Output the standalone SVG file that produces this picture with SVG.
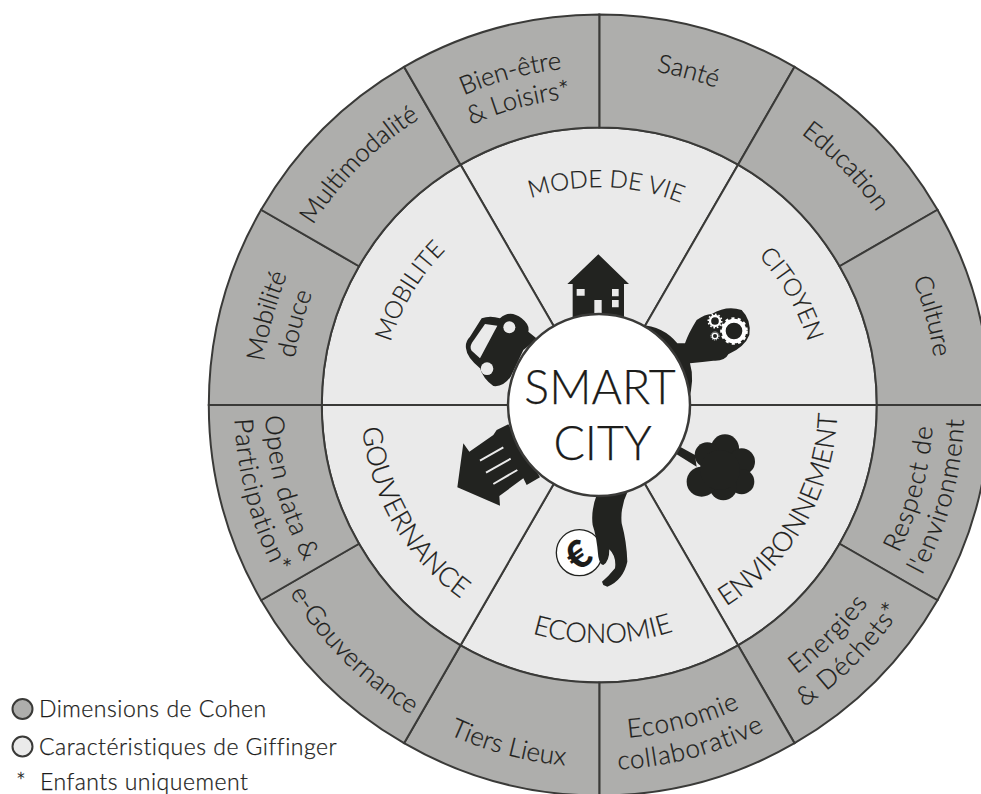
<svg xmlns="http://www.w3.org/2000/svg" width="981" height="794" viewBox="0 0 981 794">
<style>
.o{fill:#aeaeac;stroke:#3a3a38;stroke-width:2}
.i{fill:#eaeaea;stroke:#3a3a38;stroke-width:2}
text{font-family:"Lato","Noto Sans",sans-serif;fill:#1c1c1a;stroke:#1c1c1a;stroke-width:.25px;text-anchor:middle;font-weight:300}
.t{font-size:25.5px}
.s{font-size:26px}
.w{font-size:26px;letter-spacing:.9px}
.c{font-size:24px}
.d{font-size:27px}
.l{font-size:23px;text-anchor:start;letter-spacing:.5px}
.hub{font-size:46.5px}
.k{fill:#222320}
.b{fill:#eaeaea}
.g{fill:none;stroke:#fff}
</style>
<defs>
<path id="c218" d="M381.3,405A218,218 0 0 1 817.3,405"/>
<path id="c308" d="M291.3,405A308,308 0 0 1 907.3,405"/>
<path id="c338" d="M261.3,405A338,338 0 0 1 937.3,405"/>
<path id="a238" d="M361.3,405A238,238 0 0 0 837.3,405"/>
<path id="a334" d="M265.3,405A334,334 0 0 0 933.3,405"/>
<path id="a362" d="M237.3,405A362,362 0 0 0 961.3,405"/>
<path id="a365" d="M234.3,405A365,365 0 0 0 964.3,405"/>
</defs>

<g id="mode-de-vie"><path class="i" d="M599.3,405L460.55,164.7A277.5,277.5 0 0 1 738.05,164.7Z"/><text class="c"><textPath href="#c218" startOffset="51%">MODE DE VIE</textPath></text></g>
<g id="citoyen"><path class="i" d="M599.3,405L738.05,164.7A277.5,277.5 0 0 1 876.8,405Z"/><text class="c"><textPath href="#c218" startOffset="83.33%">CITOYEN</textPath></text></g>
<g id="environnement"><path class="i" d="M599.3,405L876.8,405A277.5,277.5 0 0 1 738.05,645.3Z"/><text class="d"><textPath href="#a238" startOffset="83.33%">ENVIRONNEMENT</textPath></text></g>
<g id="economie"><path class="i" d="M599.3,405L738.05,645.3A277.5,277.5 0 0 1 460.55,645.3Z"/><text class="d"><textPath href="#a238" startOffset="50.5%">ECONOMIE</textPath></text></g>
<g id="gouvernance"><path class="i" d="M599.3,405L460.55,645.3A277.5,277.5 0 0 1 321.8,405Z"/><text class="d"><textPath href="#a238" startOffset="16.67%">GOUVERNANCE</textPath></text></g>
<g id="mobilite"><path class="i" d="M599.3,405L321.8,405A277.5,277.5 0 0 1 460.55,164.7Z"/><text class="c"><textPath href="#c218" startOffset="17.2%">MOBILITE</textPath></text></g>

<g id="sante"><path class="o" d="M599.3,127.5L599.3,14.5A390.5,390.5 0 0 1 794.55,66.8L738.05,164.7A277.5,277.5 0 0 0 599.3,127.5Z"/><text class="t"><textPath href="#c338" startOffset="58.33%">Santé</textPath></text></g>
<g id="education"><path class="o" d="M738.05,164.7L794.55,66.8A390.5,390.5 0 0 1 937.5,209.75L839.6,266.25A277.5,277.5 0 0 0 738.05,164.7Z"/><text class="t"><textPath href="#c338" startOffset="75.5%">Education</textPath></text></g>
<g id="culture"><path class="o" d="M839.6,266.25L937.5,209.75A390.5,390.5 0 0 1 989.8,405L876.8,405A277.5,277.5 0 0 0 839.6,266.25Z"/><text class="t"><textPath href="#c338" startOffset="91.67%">Culture</textPath></text></g>
<g id="respect"><path class="o" d="M876.8,405L989.8,405A390.5,390.5 0 0 1 937.5,600.25L839.6,543.75A277.5,277.5 0 0 0 876.8,405Z"/><text class="w"><textPath href="#a334" startOffset="91.67%">Respect de</textPath></text><text class="w"><textPath href="#a365" startOffset="91.67%">l'environment</textPath></text></g>
<g id="energies"><path class="o" d="M839.6,543.75L937.5,600.25A390.5,390.5 0 0 1 794.55,743.2L738.05,645.3A277.5,277.5 0 0 0 839.6,543.75Z"/><text class="w"><textPath href="#a334" startOffset="75%">Energies</textPath></text><text class="w"><textPath href="#a365" startOffset="75%">&amp; Déchets*</textPath></text></g>
<g id="economie-collaborative"><path class="o" d="M738.05,645.3L794.55,743.2A390.5,390.5 0 0 1 599.3,795.5L599.3,682.5A277.5,277.5 0 0 0 738.05,645.3Z"/><text class="w"><textPath href="#a334" startOffset="58.33%">Economie</textPath></text><text class="w"><textPath href="#a365" startOffset="58.33%">collaborative</textPath></text></g>
<g id="tiers-lieux"><path class="o" d="M599.3,682.5L599.3,795.5A390.5,390.5 0 0 1 404.05,743.2L460.55,645.3A277.5,277.5 0 0 0 599.3,682.5Z"/><text class="s"><textPath href="#a362" startOffset="41.67%">Tiers Lieux</textPath></text></g>
<g id="e-gouvernance"><path class="o" d="M460.55,645.3L404.05,743.2A390.5,390.5 0 0 1 261.1,600.25L359,543.75A277.5,277.5 0 0 0 460.55,645.3Z"/><text class="s"><textPath href="#a362" startOffset="25%">e-Gouvernance</textPath></text></g>
<g id="open-data"><path class="o" d="M359,543.75L261.1,600.25A390.5,390.5 0 0 1 208.8,405L321.8,405A277.5,277.5 0 0 0 359,543.75Z"/><text class="w"><textPath href="#a334" startOffset="8.33%">Open data &amp;</textPath></text><text class="w"><textPath href="#a365" startOffset="8.33%">Participation*</textPath></text></g>
<g id="mobilite-douce"><path class="o" d="M321.8,405L208.8,405A390.5,390.5 0 0 1 261.1,209.75L359,266.25A277.5,277.5 0 0 0 321.8,405Z"/><text class="t"><textPath href="#c338" startOffset="8.33%">Mobilité</textPath></text><text class="t"><textPath href="#c308" startOffset="8.33%">douce</textPath></text></g>
<g id="multimodalite"><path class="o" d="M359,266.25L261.1,209.75A390.5,390.5 0 0 1 404.05,66.8L460.55,164.7A277.5,277.5 0 0 0 359,266.25Z"/><text class="t"><textPath href="#c338" startOffset="25%">Multimodalité</textPath></text></g>
<g id="bien-etre"><path class="o" d="M460.55,164.7L404.05,66.8A390.5,390.5 0 0 1 599.3,14.5L599.3,127.5A277.5,277.5 0 0 0 460.55,164.7Z"/><text class="t"><textPath href="#c338" startOffset="41.67%">Bien-être</textPath></text><text class="t"><textPath href="#c308" startOffset="41.67%">&amp; Loisirs*</textPath></text></g>

<g id="icons" transform="translate(440,240) scale(.33333)">
<g id="icon-house"><path class="k" d="M475,43L567,132H552V260H398V132H382Z"/><path class="b" d="M410,147h24v20h-24zM516,147h20v22h-20zM516,180h20v22h-20zM463,180h22v41h-22z"/></g>
<g id="icon-head"><path class="k" d="M600,255Q670,258 712,310L735,310Q745,280 770,240Q795,222 815,222Q860,195 905,210Q935,240 928,285Q915,320 865,343Q855,364 820,362Q790,366 750,370Q765,420 745,485L650,400Z"/><circle class="g" cx="882" cy="273" r="31" stroke-width="12"/><circle class="g" cx="882" cy="273" r="37" stroke-width="9" stroke-dasharray="9 9.4"/><circle class="g" cx="825" cy="243" r="15" stroke-width="7"/><circle class="g" cx="825" cy="243" r="20" stroke-width="5" stroke-dasharray="5 5.4"/><circle class="g" cx="825" cy="288" r="8" stroke-width="4"/><circle class="g" cx="825" cy="288" r="12" stroke-width="3" stroke-dasharray="3 3.3"/></g>
<g id="icon-tree"><path class="k" d="M705,640L720,620L765,645L770,680Z"/><circle class="k" cx="855" cy="625" r="42"/><circle class="k" cx="905" cy="665" r="40"/><circle class="k" cx="905" cy="725" r="38"/><circle class="k" cx="850" cy="740" r="41"/><circle class="k" cx="785" cy="725" r="45"/><circle class="k" cx="802" cy="645" r="38"/><circle class="k" cx="840" cy="690" r="60"/></g>
<g id="icon-coin"><circle cx="418" cy="938" r="69" fill="#fff" stroke="#222320" stroke-width="4"/><text x="418" y="985" transform="rotate(-35 418 950)" style="font-size:115px;font-weight:900">€</text><path class="k" d="M472,760Q452,810 458,855Q470,890 475,950Q480,975 490,975Q508,965 508,928Q530,950 525,985Q505,1010 486,1025L490,1035L502,1040Q550,1020 562,965Q560,905 545,850Q540,800 565,750Z"/></g>
<g id="icon-building"><path class="k" d="M170,570L205,553L300,712L260,735L250,715L178,768L180,797L52,742L70,610L88,635L160,585Z"/><path fill="none" stroke="#eaeaea" stroke-width="6" d="M120,662L190,622M138,698L212,656M160,732L232,690"/></g>
<g id="icon-car"><path class="k" d="M125,235Q150,225 180,235Q210,208 245,235Q270,255 265,275L292,297L250,330L212,410Q190,442 160,438Q130,418 120,385Q80,352 78,325Q75,305 90,290Z"/><path class="b" d="M135,252L172,257L120,355L95,332Q88,322 96,308Z"/><circle class="b" cx="208" cy="262" r="18"/><circle class="b" cx="141" cy="386" r="19"/></g>
</g>

<g id="smart-city"><circle cx="599" cy="405" r="91" fill="#fff" stroke="#3a3a38" stroke-width="2.5"/><text class="hub" x="600" y="404">SMART</text><text class="hub" x="602.5" y="460">CITY</text></g>

<g id="legend">
<circle cx="22.5" cy="709" r="10" fill="#aeaeac" stroke="#3a3a38" stroke-width="2"/><text class="l" x="39" y="717">Dimensions de Cohen</text>
<circle cx="22.5" cy="746.5" r="10" fill="#eaeaea" stroke="#3a3a38" stroke-width="2"/><text class="l" x="39" y="755">Caractéristiques de Giffinger</text>
<text class="l" x="16" y="789.5">*</text><text class="l" x="40" y="789.5">Enfants uniquement</text>
</g>
</svg>
